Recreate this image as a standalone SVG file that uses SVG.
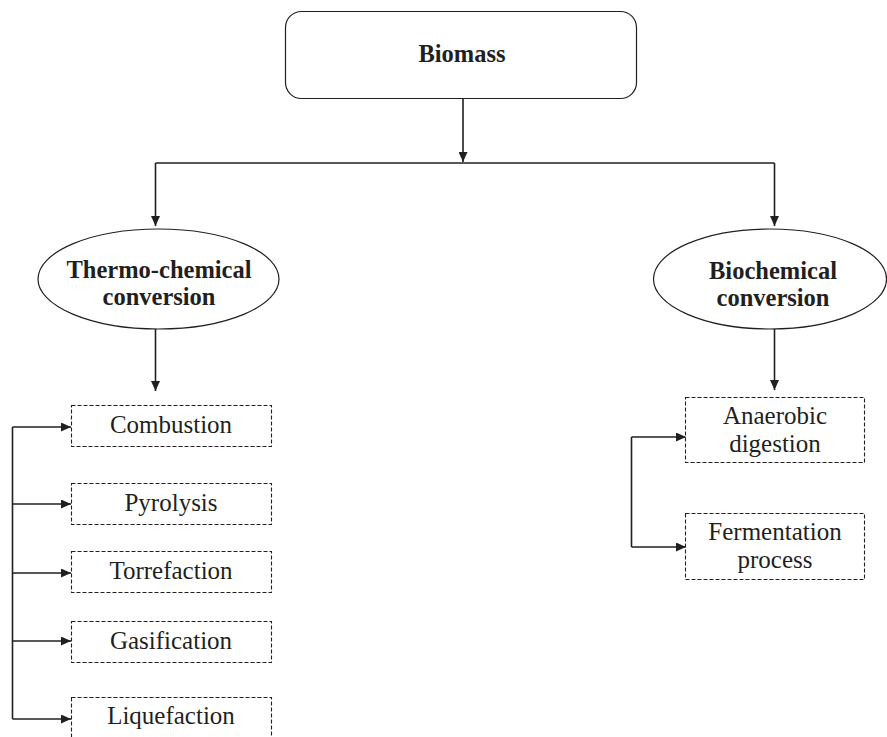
<svg xmlns="http://www.w3.org/2000/svg" width="887" height="737" viewBox="0 0 887 737">
<style>
text{font-family:"Liberation Serif","Times New Roman",serif;font-size:25px;fill:#231f20;text-anchor:middle}
.b{font-weight:bold;font-size:24.5px}
.solid{fill:#fff;stroke:#231f20;stroke-width:1.2}
.dash{fill:#fff;stroke:#231f20;stroke-width:1.1;stroke-dasharray:4 2}
.c{fill:none;stroke:#231f20;stroke-width:1.6}
</style>
<defs>
<marker id="ah" markerWidth="10" markerHeight="9" refX="10" refY="4.5" orient="auto" markerUnits="userSpaceOnUse">
<path d="M0,0 L10,4.5 L0,9 Z" fill="#231f20"/>
</marker>
</defs>
<g id="connectors">
<path class="c" d="M463,98 V162" marker-end="url(#ah)"/>
<path class="c" d="M155.5,163 H774.5"/>
<path class="c" d="M155.5,163 V226" marker-end="url(#ah)"/>
<path class="c" d="M774.5,163 V226" marker-end="url(#ah)"/>
<path class="c" d="M155.5,329 V391" marker-end="url(#ah)"/>
<path class="c" d="M774.5,329 V390" marker-end="url(#ah)"/>
<path class="c" d="M12.5,427 V719"/>
<path class="c" d="M12.5,427 H71" marker-end="url(#ah)"/>
<path class="c" d="M12.5,504 H71" marker-end="url(#ah)"/>
<path class="c" d="M12.5,573 H71" marker-end="url(#ah)"/>
<path class="c" d="M12.5,641 H71" marker-end="url(#ah)"/>
<path class="c" d="M12.5,719 H71" marker-end="url(#ah)"/>
<path class="c" d="M631.5,437 V547"/>
<path class="c" d="M631.5,437 H686" marker-end="url(#ah)"/>
<path class="c" d="M631.5,547 H686" marker-end="url(#ah)"/>
</g>
<g id="biomass">
<rect class="solid" x="285.5" y="11.5" width="351" height="87" rx="16"/>
<text class="b" x="462" y="62">Biomass</text>
</g>
<g id="thermo">
<ellipse class="solid" cx="158.5" cy="279" rx="120.5" ry="50"/>
<text class="b" x="159" y="278">Thermo-chemical</text>
<text class="b" x="159" y="305">conversion</text>
</g>
<g id="biochem">
<ellipse class="solid" cx="770" cy="279" rx="116.5" ry="50"/>
<text class="b" x="773" y="279">Biochemical</text>
<text class="b" x="773" y="306">conversion</text>
</g>
<g id="combustion">
<rect class="dash" x="71.5" y="405.5" width="200" height="41"/>
<text x="171" y="433">Combustion</text>
</g>
<g id="pyrolysis">
<rect class="dash" x="71.5" y="483.5" width="200" height="41"/>
<text x="171" y="511">Pyrolysis</text>
</g>
<g id="torrefaction">
<rect class="dash" x="71.5" y="551.5" width="200" height="41"/>
<text x="171" y="579">Torrefaction</text>
</g>
<g id="gasification">
<rect class="dash" x="71.5" y="621.5" width="200" height="41"/>
<text x="171" y="649">Gasification</text>
</g>
<g id="liquefaction">
<rect class="dash" x="71.5" y="697.5" width="200" height="45"/>
<text x="171" y="724">Liquefaction</text>
</g>
<g id="anaerobic">
<rect class="dash" x="685.5" y="397.5" width="179" height="65"/>
<text x="775" y="424">Anaerobic</text>
<text x="775" y="452">digestion</text>
</g>
<g id="fermentation">
<rect class="dash" x="685.5" y="513.5" width="179" height="66"/>
<text x="775" y="540">Fermentation</text>
<text x="775" y="568">process</text>
</g>
</svg>
